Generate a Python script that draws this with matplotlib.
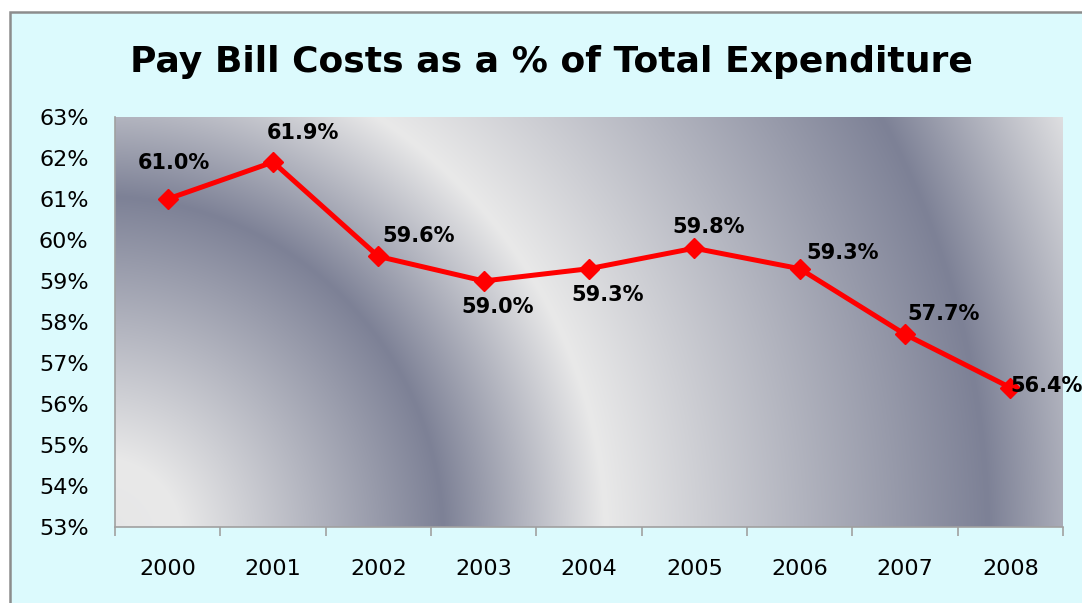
import numpy as np
import matplotlib.pyplot as plt
import matplotlib.patches as patches
from matplotlib.ticker import FuncFormatter, FixedLocator

years = ["2000", "2001", "2002", "2003", "2004", "2005", "2006", "2007", "2008"]
pay_share = [61.0, 61.9, 59.6, 59.0, 59.3, 59.8, 59.3, 57.7, 56.4]
labels = ["61.0%", "61.9%", "59.6%", "59.0%", "59.3%", "59.8%", "59.3%", "57.7%", "56.4%"]

# label offsets in pixels (dx, dy) relative to each point
label_offsets = [(6, 36), (30, 29), (40, 20), (14, -26), (19, -26),
                 (14, 21), (43, 16), (39, 20), (36, 2)]

W, H = 1082, 603
fig = plt.figure(figsize=(W / 100, H / 100), dpi=100)
fig.patch.set_facecolor("white")

# outer chart frame (cropped on right / bottom)
frame = patches.Rectangle((10 / W, -0.05), 1.1, (H - 12) / H + 0.05,
                          transform=fig.transFigure, facecolor="#dcfafd",
                          edgecolor="#8c8c8c", linewidth=1.8, zorder=-5)
fig.patches.append(frame)

ax_l, ax_r, ax_t, ax_b = 115, 1063, 117, 527
ax = fig.add_axes([ax_l / W, 1 - ax_b / H, (ax_r - ax_l) / W, (ax_b - ax_t) / H])
ax.set_zorder(2)
ax.set_xlim(-0.5, 8.5)
ax.set_ylim(53, 63)

# radial grey gradient behind the plot
pw, ph = ax_r - ax_l, ax_b - ax_t
gx, gy = np.meshgrid(np.arange(pw), np.arange(ph))
r = np.hypot(gx + 15, gy + 13)
stops_r = [0, 80, 343, 505, 888, 1060, 1300]
stops_t = [0.97, 1.0, 0.0, 1.0, 0.0, 0.95, 0.2]
t = np.interp(r, stops_r, stops_t)
light = np.array([233, 233, 233]) / 255
dark = np.array([125, 129, 150]) / 255
img = dark + t[..., None] * (light - dark)
ax.imshow(img, extent=(-0.5, 8.5, 53, 63), origin="lower", aspect="auto",
          zorder=0, interpolation="bilinear")

x = np.arange(len(years))
ax.plot(x, pay_share, color="#ff0000", linewidth=3.6, marker="D",
        markersize=10, zorder=3)

for xi, yi, lab, (dx, dy) in zip(x, pay_share, labels, label_offsets):
    ax.annotate(lab, (xi, yi), xytext=(dx, dy), textcoords="offset pixels",
                ha="center", va="center", fontsize=15, fontweight="bold",
                color="black", annotation_clip=False, zorder=4)

for side in ["top", "right"]:
    ax.spines[side].set_visible(False)
for side in ["left", "bottom"]:
    ax.spines[side].set_color("#a0a0a0")
    ax.spines[side].set_linewidth(1.2)

ax.set_xticks(x)
ax.set_xticklabels(years)
ax.xaxis.set_minor_locator(FixedLocator(np.arange(-0.5, 9, 1)))
ax.tick_params(axis="x", which="major", length=0, pad=23, labelsize=16)
ax.tick_params(axis="x", which="minor", length=6.5, color="#a0a0a0", width=1.2)

ax.set_yticks(np.arange(53, 64, 1))
ax.yaxis.set_major_formatter(FuncFormatter(lambda v, p: f"{v:.0f}%"))
ax.tick_params(axis="y", length=0, pad=19, labelsize=16)

fig.text(551 / W, 1 - 62 / H, "Pay Bill Costs as a % of Total Expenditure",
         ha="center", va="center", fontsize=26, fontweight="bold",
         family="DejaVu Sans")

fig.savefig("out.png", dpi=100)
